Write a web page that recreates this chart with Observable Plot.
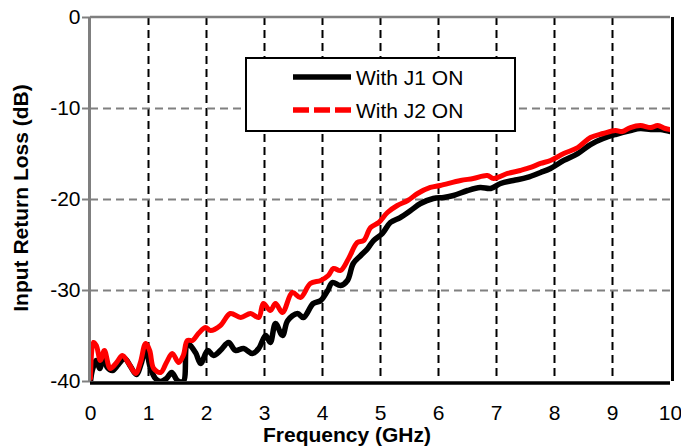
<!DOCTYPE html>
<html>
<head>
<meta charset="utf-8">
<script src="https://cdn.jsdelivr.net/npm/d3@7"></script>
<script src="https://cdn.jsdelivr.net/npm/@observablehq/plot@0.6"></script>
<style>
  html, body { margin: 0; padding: 0; background: #fff; }
  #chart svg { display: block; }
</style>
</head>
<body>
<div id="chart"></div>
<script>
// Series: With J1 ON (black)
const freqJ1 = [0.00,0.03,0.10,0.16,0.22,0.29,0.38,0.48,0.59,0.69,0.79,0.88,0.95,1.03,1.12,1.21,1.31,1.40,1.50,1.60,1.67,1.81,1.90,2.02,2.12,2.24,2.38,2.50,2.64,2.79,2.90,3.02,3.10,3.19,3.31,3.40,3.57,3.67,3.84,3.97,4.09,4.17,4.31,4.43,4.53,4.66,4.78,4.88,5.03,5.17,5.34,5.52,5.69,5.91,6.09,6.26,6.50,6.72,6.90,7.07,7.29,7.53,7.76,7.93,8.16,8.40,8.62,8.84,9.05,9.31,9.48,9.66,9.83,10.00];
const lossJ1 = [-40,-38.79,-37.69,-38.57,-37.36,-38.46,-38.79,-38.13,-37.47,-38.35,-39.23,-37.91,-36.26,-38.46,-39.67,-40,-39.67,-39.01,-39.89,-40,-35.82,-36.81,-38.02,-36.59,-37.14,-36.59,-35.71,-36.59,-36.37,-36.92,-36.37,-34.95,-35.71,-33.63,-34.95,-33.30,-32.53,-32.97,-31.43,-31.10,-30.00,-29.12,-29.45,-28.90,-27.03,-26.15,-25.38,-24.51,-23.74,-22.53,-21.98,-21.21,-20.44,-19.89,-19.78,-19.56,-19.01,-18.68,-18.79,-18.24,-17.91,-17.58,-17.03,-16.59,-15.71,-14.95,-13.96,-13.30,-12.86,-12.42,-12.20,-12.31,-12.31,-12.53];
// Series: With J2 ON (red)
const freqJ2 = [0.00,0.05,0.10,0.17,0.24,0.34,0.45,0.55,0.66,0.78,0.86,0.95,1.02,1.09,1.21,1.31,1.41,1.52,1.60,1.67,1.76,1.86,1.98,2.07,2.24,2.41,2.59,2.76,2.90,2.98,3.10,3.19,3.31,3.48,3.62,3.79,3.97,4.10,4.19,4.31,4.45,4.60,4.71,4.83,4.97,5.12,5.29,5.47,5.64,5.86,6.03,6.38,6.60,6.84,6.95,7.19,7.41,7.59,7.76,7.93,8.16,8.40,8.62,8.84,9.05,9.17,9.31,9.48,9.66,9.78,9.91,10.00];
const lossJ2 = [-39.67,-35.71,-36.04,-37.69,-36.59,-38.57,-37.91,-37.14,-38.02,-39.12,-37.91,-35.82,-36.59,-38.57,-39.01,-37.91,-36.92,-37.91,-37.14,-35.49,-35.49,-34.73,-34.07,-34.40,-33.85,-32.53,-32.97,-32.53,-32.97,-31.43,-32.20,-31.43,-32.42,-30.22,-30.77,-29.23,-28.90,-28.35,-27.58,-27.80,-26.48,-24.73,-24.51,-23.08,-22.53,-21.43,-20.66,-20.11,-19.34,-18.68,-18.46,-17.91,-17.69,-17.36,-17.69,-17.14,-16.81,-16.48,-16.04,-15.71,-14.95,-14.29,-13.19,-12.75,-12.42,-12.53,-12.09,-11.87,-12.09,-11.87,-12.20,-12.31];

const seriesNames = ["With J1 ON", "With J2 ON"];
const xTicks = [0,1,2,3,4,5,6,7,8,9,10];
const yTicks = [0,-10,-20,-30,-40];
const xGrid = [1,2,3,4,5,6,7,8,9];
const yGrid = [-10,-20,-30];
const xTitle = "Frequency (GHz)";
const yTitle = "Input Return Loss (dB)";

const j1 = freqJ1.map((f, i) => ({f, v: lossJ1[i]}));
const j2 = freqJ2.map((f, i) => ({f, v: lossJ2[i]}));

const FONT = "'Liberation Sans', Arial, Helvetica, sans-serif";

const chart = Plot.plot({
  width: 681,
  height: 448,
  marginLeft: 90,
  marginRight: 11,
  marginTop: 17,
  marginBottom: 67,
  style: {fontFamily: FONT, fontSize: "21px", color: "#000", background: "#fff"},
  x: {domain: [0, 10], ticks: xTicks, tickSize: 0, tickPadding: 24, tickFormat: d => String(d), label: null},
  y: {domain: [-40, 0], ticks: yTicks, tickSize: 8, tickPadding: 2, tickFormat: d => String(d), label: null},
  marks: [
    Plot.ruleX(xGrid, {stroke: "#000", strokeWidth: 2, strokeDasharray: "8,5"}),
    Plot.ruleY(yGrid, {stroke: "#808080", strokeWidth: 2, strokeDasharray: "8,5"}),
    Plot.line(j1, {x: "f", y: "v", stroke: "#000", strokeWidth: 5.5, curve: "catmull-rom", clip: true}),
    Plot.line(j2, {x: "f", y: "v", stroke: "#ff0000", strokeWidth: 5, curve: "catmull-rom", clip: true}),
    Plot.ruleX([0], {stroke: "#7f7f7f", strokeWidth: 3, dx: -1}),
    Plot.ruleY([0], {stroke: "#7f7f7f", strokeWidth: 2.5, dy: -0.5}),
    Plot.ruleX([10], {stroke: "#000", strokeWidth: 3, dx: 2}),
    Plot.ruleY([-40], {stroke: "#000", strokeWidth: 3.5, dy: 1.5})
  ]
});

const svg = d3.select(chart);
svg.selectAll("[aria-label='y-axis tick'] path, g[aria-label='y-axis tick']").attr("stroke", "#808080").attr("stroke-width", 2);

// Axis titles
svg.append("text")
  .attr("x", 347).attr("y", 442)
  .attr("text-anchor", "middle")
  .attr("font-family", FONT).attr("font-size", 21).attr("font-weight", "bold")
  .attr("fill", "#000")
  .text(xTitle);
svg.append("text")
  .attr("transform", "translate(28,198) rotate(-90)")
  .attr("text-anchor", "middle")
  .attr("font-family", FONT).attr("font-size", 21).attr("font-weight", "bold")
  .attr("fill", "#000")
  .text(yTitle);

// Legend
const lg = svg.append("g");
lg.append("rect").attr("x", 246).attr("y", 58).attr("width", 269).attr("height", 73)
  .attr("fill", "#fff").attr("stroke", "#000").attr("stroke-width", 2);
lg.append("line").attr("x1", 293).attr("x2", 351).attr("y1", 77).attr("y2", 77)
  .attr("stroke", "#000").attr("stroke-width", 5.5);
lg.append("line").attr("x1", 293).attr("x2", 351).attr("y1", 110).attr("y2", 110)
  .attr("stroke", "#ff0000").attr("stroke-width", 5.5).attr("stroke-dasharray", "16,5");
lg.append("text").attr("x", 356).attr("y", 85).attr("text-anchor", "start")
  .attr("font-family", FONT).attr("font-size", 21).attr("fill", "#000").text(seriesNames[0]);
lg.append("text").attr("x", 356).attr("y", 118).attr("text-anchor", "start")
  .attr("font-family", FONT).attr("font-size", 21).attr("fill", "#000").text(seriesNames[1]);

document.getElementById("chart").appendChild(chart);
</script>
</body>
</html>
